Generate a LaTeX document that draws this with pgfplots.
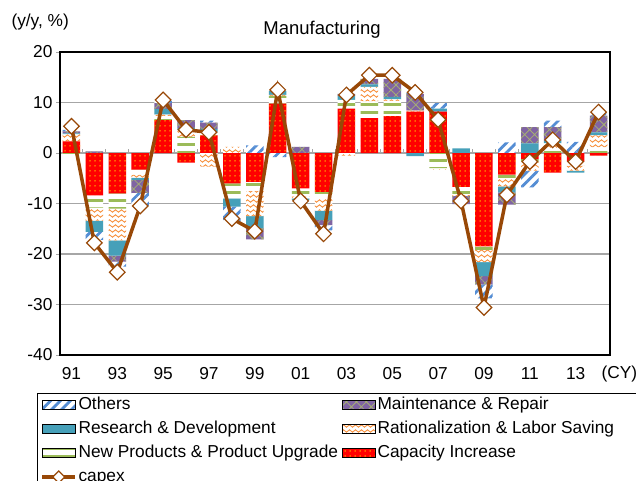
\documentclass[border=0pt]{standalone}
\usepackage{pgfplots}
\pgfplotsset{compat=1.18}
\usepackage{pgfplotstable}
\usepackage{fontspec}
\setmainfont{Liberation Sans}
\usetikzlibrary{patterns,patterns.meta}

\definecolor{capred}{RGB}{255,0,0}
\definecolor{capdot}{RGB}{255,204,0}
\definecolor{npgreen}{RGB}{155,187,89}
\definecolor{ratorange}{RGB}{247,150,70}
\definecolor{rdteal}{RGB}{70,160,185}
\definecolor{mtpurple}{RGB}{128,100,162}
\definecolor{mthatch}{RGB}{165,175,115}
\definecolor{othblue}{RGB}{84,141,212}
\definecolor{capexbrown}{RGB}{152,72,7}
\definecolor{gridgray}{RGB}{166,166,166}

\newcommand{\fs}{\fontsize{17.3bp}{20.8bp}\selectfont}

% orange wave rows for Rationalization
\pgfdeclarepatternformonly{wavy}{\pgfpoint{-1bp}{-2.5bp}}{\pgfpoint{7bp}{2.5bp}}{\pgfpoint{6bp}{5bp}}{
  \pgfsetlinewidth{0.9bp}
  \pgfpathmoveto{\pgfpoint{0bp}{0bp}}
  \pgfpathcurveto{\pgfpoint{1bp}{1.6bp}}{\pgfpoint{2bp}{1.6bp}}{\pgfpoint{3bp}{0bp}}
  \pgfpathcurveto{\pgfpoint{4bp}{-1.6bp}}{\pgfpoint{5bp}{-1.6bp}}{\pgfpoint{6bp}{0bp}}
  \pgfusepath{stroke}
}

\tikzset{
  capfill/.style={fill=capred, postaction={pattern color=capdot, pattern={Dots[distance=5bp, radius=0.75bp]}}},
  npfill/.style={fill=white, postaction={pattern color=npgreen, pattern={Lines[angle=0, distance=8bp, line width=3bp]}}},
  ratfill/.style={fill=white, postaction={pattern color=ratorange, pattern=wavy}},
  rdfill/.style={fill=rdteal},
  mtfill/.style={fill=mtpurple, postaction={pattern color=mthatch, pattern={Hatch[angle=45, distance=7bp, line width=0.8bp]}}},
  othfill/.style={fill=white, postaction={pattern color=othblue, pattern={Lines[angle=45, distance=7bp, line width=2.8bp]}}},
}

\pgfplotsset{
  barleg/.style={legend image code/.code={\path[##1] (0bp,-4.5bp) rectangle (33bp,4.5bp);}},
  capexleg/.style={legend image code/.code={\draw[mark repeat=2,mark phase=2,##1,sharp plot] plot coordinates {(0bp,0bp) (16.5bp,0bp) (33bp,0bp)};}},
  samebox/.style={at={(60bp,126bp)}, anchor=south west, scale only axis,
    width=550bp, height=303bp, xmin=0.5, xmax=24.5, ymin=-40, ymax=20},
}

% contributions by purpose, manufacturing, y/y %  (t = year - 1990)
\pgfplotstableread{
t cap np rat rd mt oth capex
1 2.3 -0.7 1.4 0.2 0.4 0.3 5.3
2 -8.4 -2.4 -2.6 -2.2 0.3 -1.6 -17.8
3 -8.0 -3.0 -6.3 -3.0 -1.2 -1.0 -23.6
4 -3.3 -1.0 -0.6 -0.4 -2.6 -2.5 -10.5
5 6.5 0.8 0.3 1.1 1.2 0.4 10.5
6 -1.9 3.2 1.4 0.4 1.5 0.0 4.6
7 3.5 0.6 -2.7 0.7 1.2 0.4 4.1
8 -6.0 -3.0 1.2 -1.6 0.0 -3.0 -13.0
9 -5.7 -1.8 -5.0 -2.4 -2.2 1.5 -15.5
10 9.8 1.5 0.2 0.8 0.0 -0.8 12.5
11 -7.0 -1.6 -0.4 -0.3 1.2 0.0 -9.5
12 -7.7 -1.3 -2.4 -1.9 -1.0 -1.0 -16.0
13 8.8 1.7 -0.5 0.8 0.4 0.0 11.5
14 6.9 3.3 2.9 0.5 1.1 0.0 15.4
15 7.3 3.0 0.3 0.5 3.6 0.0 15.4
16 8.2 0.0 0.2 -0.6 3.3 0.2 12.0
17 8.2 -3.0 -0.3 0.6 0.0 1.1 6.6
18 -6.7 -1.6 -0.2 0.9 -1.6 0.0 -9.5
19 -18.5 -0.7 -2.4 -2.8 -1.6 -2.8 -30.6
20 -4.3 -0.7 -1.6 -1.2 -2.4 2.1 -8.3
21 -1.2 -0.5 -1.8 1.9 3.2 -3.3 -1.7
22 -3.9 0.9 1.0 0.5 2.7 1.3 2.6
23 -1.7 -0.8 -1.0 -0.4 0.0 2.2 -1.7
24 -0.5 1.1 2.4 0.6 3.3 0.4 8.1
}\mfg

\begin{document}
\begin{tikzpicture}
% positive parts, frame, grid, legend
\begin{axis}[name=ax, samebox,
  ybar stacked, bar width=17.5bp,
  xtick={1,3,...,23}, xticklabels={91,93,95,97,99,01,03,05,07,09,11,13},
  ytick={-40,-30,...,20}, yticklabels={-40,-30,-20,-10,0,10,20},
  xtick pos=bottom, ytick pos=left,
  x tick style={draw=none}, y tick style={draw=gridgray, line width=1bp},
  major tick length=4bp, tick align=outside,
  ymajorgrids, grid style={draw=gridgray, line width=1.2bp},
  axis line style={draw=black, line width=1.8bp},
  tick label style={font=\fs},
  xticklabel style={anchor=base, yshift=-20bp},
  legend columns=2, legend cell align=left,
  legend style={at={(-0.0418,-0.1254)}, anchor=north west, draw=black,
    line width=1bp, font=\fs, inner xsep=3bp, inner ysep=2bp,
    nodes={inner xsep=1.5bp, inner ysep=1bp, text height=13bp, text depth=4bp},
    row sep=5bp},
]
\addplot[forget plot, draw=none, capfill] table[x=t, y expr={max(\thisrow{cap},0)}] {\mfg};
\addplot[forget plot, draw=none, npfill] table[x=t, y expr={max(\thisrow{np},0)}] {\mfg};
\addplot[forget plot, draw=none, ratfill] table[x=t, y expr={max(\thisrow{rat},0)}] {\mfg};
\addplot[forget plot, draw=none, rdfill] table[x=t, y expr={max(\thisrow{rd},0)}] {\mfg};
\addplot[forget plot, draw=none, mtfill] table[x=t, y expr={max(\thisrow{mt},0)}] {\mfg};
\addplot[forget plot, draw=none, othfill] table[x=t, y expr={max(\thisrow{oth},0)}] {\mfg};

\addlegendimage{barleg, othfill}
\addlegendentry{\makebox[262bp][l]{Others}}
\addlegendimage{barleg, mtfill}
\addlegendentry{\makebox[300bp][l]{Maintenance \& Repair}}
\addlegendimage{barleg, rdfill}
\addlegendentry{\makebox[262bp][l]{Research \& Development}}
\addlegendimage{barleg, ratfill}
\addlegendentry{\makebox[300bp][l]{Rationalization \& Labor Saving}}
\addlegendimage{barleg, npfill}
\addlegendentry{\makebox[262bp][l]{New Products \& Product Upgrade}}
\addlegendimage{barleg, capfill}
\addlegendentry{\makebox[300bp][l]{Capacity Increase}}
\addlegendimage{capexleg, color=capexbrown, line width=3.5bp, mark=square*, mark size=4.2bp,
  mark options={rotate=45, fill=white, draw=capexbrown, line width=1.2bp}}
\addlegendentry{\makebox[262bp][l]{capex}}

\pgfplotsinvokeforeach{1,...,23}{\draw[gridgray, line width=1bp] (axis cs:#1.5,0) -- (axis cs:#1.5,0.8);}
\end{axis}

% negative parts
\begin{axis}[samebox, hide axis, ybar stacked, bar width=17.5bp]
\addplot[draw=none, capfill] table[x=t, y expr={min(\thisrow{cap},0)}] {\mfg};
\addplot[draw=none, npfill] table[x=t, y expr={min(\thisrow{np},0)}] {\mfg};
\addplot[draw=none, ratfill] table[x=t, y expr={min(\thisrow{rat},0)}] {\mfg};
\addplot[draw=none, rdfill] table[x=t, y expr={min(\thisrow{rd},0)}] {\mfg};
\addplot[draw=none, mtfill] table[x=t, y expr={min(\thisrow{mt},0)}] {\mfg};
\addplot[draw=none, othfill] table[x=t, y expr={min(\thisrow{oth},0)}] {\mfg};
\end{axis}

% capex line
\begin{axis}[samebox, hide axis]
\addplot[color=capexbrown, line width=3.5bp, mark=square*, mark size=5.5bp,
  mark options={rotate=45, fill=white, draw=capexbrown, line width=1.2bp}]
  table[x=t, y=capex] {\mfg};
\end{axis}

\node[anchor=base, font=\fontsize{18.5bp}{22bp}\selectfont] at ([xshift=-13bp,yshift=18bp]ax.north) {Manufacturing};
\node[anchor=base west, font=\fs] at ([xshift=-52bp,yshift=26bp]ax.north west) {(y/y, \%)};
\node[anchor=base west, font=\fs] at ([xshift=-12bp,yshift=-24bp]ax.south east) {(CY)};

\pgfresetboundingbox
\useasboundingbox (0,0) rectangle (636bp,481bp);
\end{tikzpicture}
\end{document}
